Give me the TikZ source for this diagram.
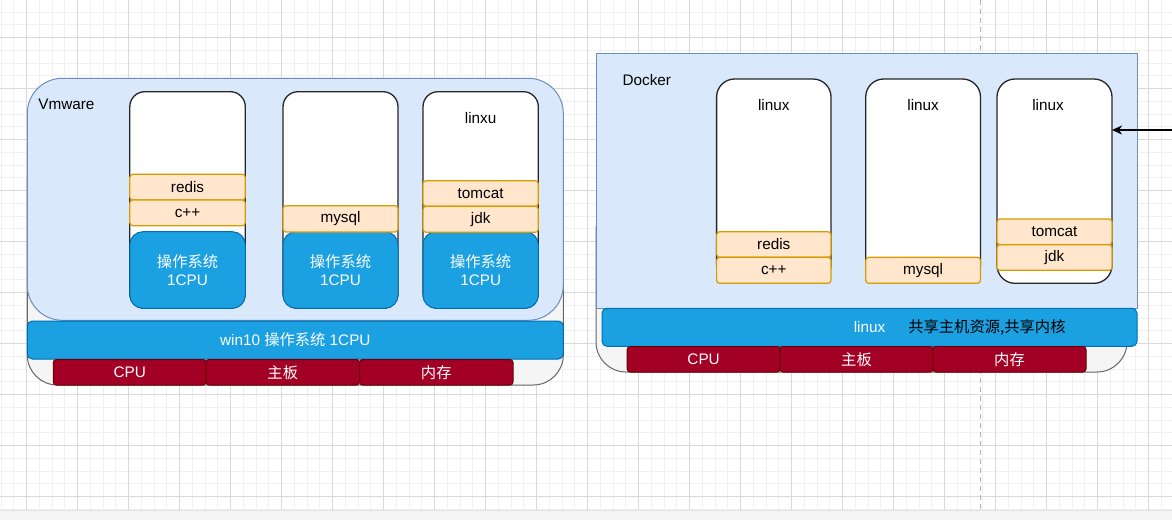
\documentclass[tikz,border=0pt]{standalone}
\usepackage{fontspec}
\setmainfont{Liberation Sans}
\newfontfamily\cjk{Noto Sans CJK SC}
\usetikzlibrary{arrows.meta}
\definecolor{lbfill}{HTML}{DAE8FC}
\definecolor{lbdraw}{HTML}{6C8EBF}
\definecolor{gyfill}{HTML}{F5F5F5}
\definecolor{gydraw}{HTML}{666666}
\definecolor{bufill}{HTML}{1BA1E2}
\definecolor{budraw}{HTML}{006EAF}
\definecolor{rdfill}{HTML}{A20025}
\definecolor{rddraw}{HTML}{6F0000}
\definecolor{orfill}{HTML}{FFE6CC}
\definecolor{ordraw}{HTML}{D79B00}
\definecolor{gridminor}{HTML}{F0F0F0}
\definecolor{gridmajor}{HTML}{D9D9D9}
\newcommand\boxnode[7]{\node[#1,anchor=north west,minimum width={(#4)-(#2)},minimum height={(#5)-(#3)}] (#6) at (#2,#3) {#7};}
\begin{document}
\begin{tikzpicture}[x=1pt,y=-1pt,
  font=\fontsize{15.3}{17.7}\selectfont,
  every node/.style={outer sep=0pt,inner sep=0pt},
  graybox/.style={draw=gydraw,fill=gyfill,line width=1pt,rounded corners=30pt},
  vmbox/.style={draw=lbdraw,fill=lbfill,line width=1pt,rounded corners=35pt},
  dockbox/.style={draw=lbdraw,fill=lbfill,line width=1pt},
  colbox/.style={draw=black!85,fill=white,line width=1.3pt,rounded corners=15pt},
  dcolbox/.style={draw=black!85,fill=white,line width=1.3pt,rounded corners=18pt},
  osbox/.style={draw=budraw,fill=bufill,line width=1pt,rounded corners=13pt,text=white,align=center},
  barbox/.style={draw=budraw,fill=bufill,line width=1pt,rounded corners=5pt,text=white},
  hwbox/.style={draw=rddraw,fill=rdfill,line width=1pt,rounded corners=3pt,text=white},
  appbox/.style={draw=ordraw,fill=orfill,line width=1.2pt,rounded corners=3pt,text=black},
  lbl/.style={text=black}
]
\useasboundingbox (0,0) rectangle (1172,520);
\fill[white] (0,0) rectangle (1172,520);
% grid
\begin{scope}
\clip (0,0) rectangle (1172,510);
\foreach \i in {-2,...,90} \draw[gridminor,line width=1pt] ({26.7+12.75*\i},0) -- ++(0,510);
\foreach \j in {-3,...,38} \draw[gridminor,line width=1pt] (0,{37.7+12.75*\j}) -- ++(1172,0);
\foreach \i in {-1,...,23} \draw[gridmajor,line width=1pt] ({26.7+51*\i},0) -- ++(0,510);
\foreach \j in {-1,...,10} \draw[gridmajor,line width=1pt] (0,{37.7+51*\j}) -- ++(1172,0);
\end{scope}
\fill[black!4] (0,510) rectangle (1172,520);
\draw[black!12,line width=1pt] (0,510) -- (1172,510);
% page-break line
\coordinate (pbtop) at (980.5,0);
\coordinate (pbbot) at (980.5,510);
\draw[black!30,line width=1.2pt,dash pattern=on 5pt off 4pt] (pbtop) -- (pbbot);

% ===== VMware side =====
\boxnode{graybox}{27.3}{150}{563.3}{385}{vmgray}{}
\boxnode{vmbox}{27.3}{78.3}{563.3}{320.3}{vmbox}{}
\node[lbl,anchor=west] (vmlabel) at (38.3,104) {Vmware};
\boxnode{colbox}{129.8}{91.7}{245.3}{308.3}{vc1}{}
\boxnode{colbox}{283}{91.7}{398}{308.3}{vc2}{}
\boxnode{colbox}{423}{91.7}{538.3}{308.3}{vc3}{}
\node[lbl] (vc3lbl) at (480.6,118) {linxu};
\boxnode{osbox}{129.8}{231.7}{245.3}{308.3}{vo1}{\cjk 操作系统\\1CPU}
\boxnode{osbox}{283}{231.7}{398}{308.3}{vo2}{\cjk 操作系统\\1CPU}
\boxnode{osbox}{423}{231.7}{538.3}{308.3}{vo3}{\cjk 操作系统\\1CPU}
\boxnode{appbox}{129.8}{174.3}{245.3}{200}{vredis}{redis}
\boxnode{appbox}{129.8}{200}{245.3}{225.7}{vcpp}{c++}
\boxnode{appbox}{283}{205.7}{398}{232}{vmysql}{mysql}
\boxnode{appbox}{423}{180.7}{538.3}{206.3}{vtomcat}{tomcat}
\boxnode{appbox}{423}{206.3}{538.3}{232.3}{vjdk}{jdk}
\boxnode{barbox}{27.3}{321}{563.3}{359}{vbar}{win10 {\cjk 操作系统} 1CPU}
\boxnode{hwbox}{53.3}{359.5}{206}{385}{vcpu}{CPU}
\boxnode{hwbox}{206}{359.5}{359.5}{385}{vboard}{\cjk 主板}
\boxnode{hwbox}{359.5}{359.5}{513}{385}{vmem}{\cjk 内存}

% ===== Docker side =====
\boxnode{graybox}{596}{200}{1127}{372}{dgray}{}
\boxnode{dockbox}{596}{53.3}{1137}{308.3}{dbox}{}
\node[lbl,anchor=west] (dlabel) at (622.6,80) {Docker};
\boxnode{dcolbox}{716.6}{79}{831}{283.3}{dc1}{}
\boxnode{dcolbox}{865.7}{79}{980.5}{283.3}{dc2}{}
\boxnode{dcolbox}{997}{79}{1112}{283.3}{dc3}{}
\node[lbl] (dc1lbl) at (773.8,105) {linux};
\node[lbl] (dc2lbl) at (923.1,105) {linux};
\node[lbl] (dc3lbl) at (1048,105) {linux};
\boxnode{appbox}{716.6}{231.7}{831}{257.3}{dredis}{redis}
\boxnode{appbox}{716.6}{257.3}{831}{283.3}{dcpp}{c++}
\boxnode{appbox}{865.7}{257.3}{980.5}{283.3}{dmysql}{mysql}
\boxnode{appbox}{997}{219}{1112}{244.7}{dtomcat}{tomcat}
\boxnode{appbox}{997}{244.7}{1112}{270.3}{djdk}{jdk}
\boxnode{barbox}{602}{308.3}{1137}{346.3}{dbar}{}
\node[text=white] (dbarlinux) at (869.5,327.3) {linux};
\node[lbl,anchor=west] (dbarcjk) at (908.3,327.3) {\cjk 共享主机资源,共享内核};
\boxnode{hwbox}{627.2}{346.5}{780}{372}{dcpu}{CPU}
\boxnode{hwbox}{780}{346.5}{933}{372}{dboard}{\cjk 主板}
\boxnode{hwbox}{933}{346.5}{1086}{372}{dmem}{\cjk 内存}

% arrow
\coordinate (arrsrc) at (1172,130);
\draw[line width=1.5pt,-{Stealth[length=10pt,width=9pt,inset=3pt]}] (arrsrc) -- (arrsrc -| dc3.east);
\end{tikzpicture}
\end{document}
